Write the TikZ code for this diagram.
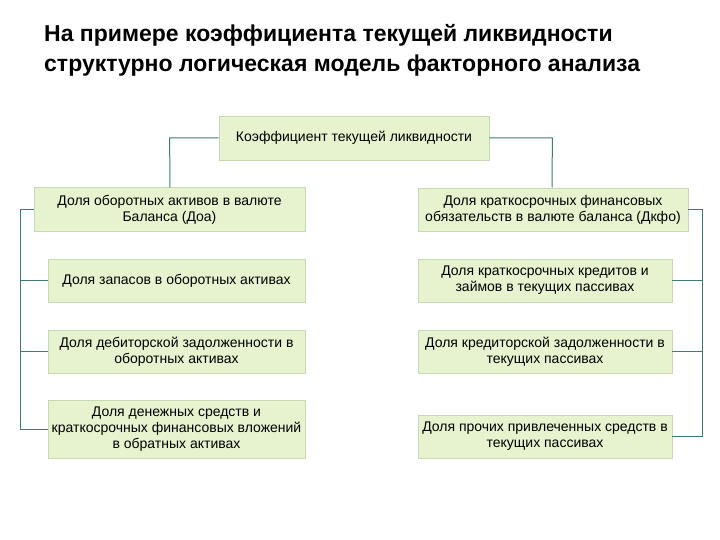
\documentclass[tikz,border=0pt]{standalone}
\usepackage{fontspec}
\setmainfont{Liberation Sans}
\begin{document}
\begin{tikzpicture}[x=1pt,y=-1pt,
  box/.style={draw=boxline,fill=boxfill,line width=0.8pt,align=center,inner sep=0pt,font=\fontsize{14}{16}\selectfont},
  conn/.style={draw=lineclr,line width=1pt}]
\definecolor{boxfill}{HTML}{E6F3CE}
\definecolor{boxline}{HTML}{C6D9B4}
\definecolor{lineclr}{HTML}{3F7B74}
\useasboundingbox (0,0) rectangle (720,540);
\node[anchor=west,align=left,inner sep=0pt,font=\fontsize{23}{30}\selectfont\bfseries] (title) at (44,50)
 {На примере коэффициента текущей ликвидности\\структурно логическая модель факторного анализа};
\node[box,minimum width=270,minimum height=44] (top) at (354,138) {Коэффициент текущей ликвидности};
\node[box,minimum width=271,minimum height=44] (l1) at (169.5,209.5) {Доля оборотных активов в валюте\\Баланса (Доа)};
\node[box,minimum width=257,minimum height=43] (l2) at (176.5,280.5) {Доля запасов в оборотных активах};
\node[box,minimum width=257,minimum height=43] (l3) at (176.5,351.5) {Доля дебиторской задолженности в\\оборотных активах};
\node[box,minimum width=257,minimum height=58] (l4) at (176.5,429) {Доля денежных средств и\\краткосрочных финансовых вложений\\в обратных активах};
\node[box,minimum width=270,minimum height=43] (r1) at (553,209.5) {Доля краткосрочных финансовых\\обязательств в валюте баланса (Дкфо)};
\node[box,minimum width=254,minimum height=43] (r2) at (545,280.5) {Доля краткосрочных кредитов и\\займов в текущих пассивах};
\node[box,minimum width=254,minimum height=43] (r3) at (545,351.5) {Доля кредиторской задолженности в\\текущих пассивах};
\node[box,minimum width=254,minimum height=43] (r4) at (545,436.5) {Доля прочих привлеченных средств в\\текущих пассивах};
\coordinate (ls) at (20,0);
\coordinate (rs) at (702,0);
\draw[conn] (top.west) -- ++(-49,0) -- (170,187.5);
\draw[conn] (top.east) -- ++(63,0) -- (552,187.5);
\draw[conn] (l1.west) -- (ls |- l1.west) -- (ls |- l4.west) -- (l4.west);
\draw[conn] (ls |- l2.west) -- (l2.west);
\draw[conn] (ls |- l3.west) -- (l3.west);
\draw[conn] (r1.east) -- (rs |- r1.east) -- (rs |- r4.east) -- (r4.east);
\draw[conn] (rs |- r2.east) -- (r2.east);
\draw[conn] (rs |- r3.east) -- (r3.east);
\end{tikzpicture}
\end{document}
